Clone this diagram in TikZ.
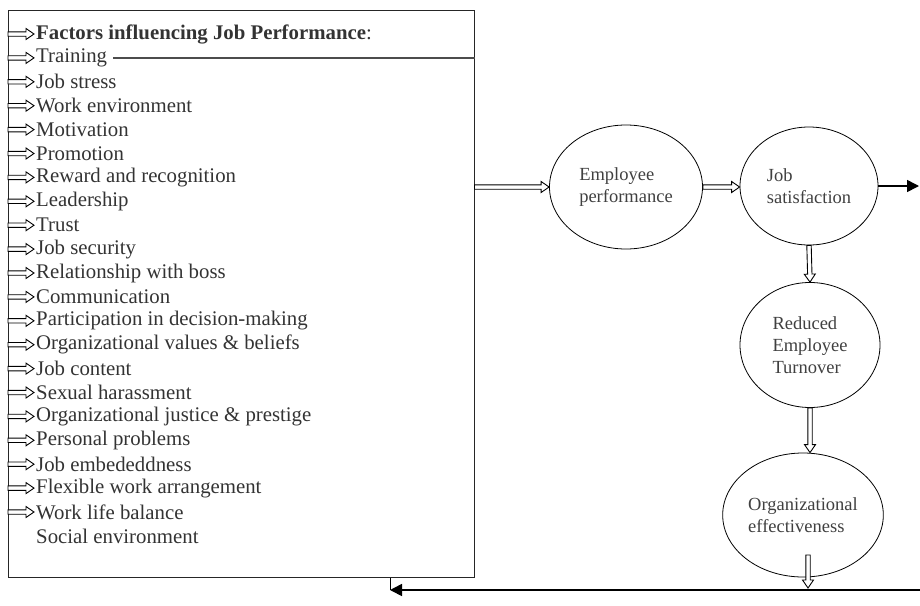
\documentclass[tikz,border=0pt]{standalone}
\usepackage{fontspec}
\setmainfont{Liberation Serif}
\usetikzlibrary{arrows.meta,shapes.geometric,positioning,calc}
\tikzset{
    x=1pt, y=-1pt, semithick,
    state/.style ={ellipse, draw, line width=0.8pt, align=left, inner sep=2pt,
        font=\fontsize{18.5}{22}\selectfont, text=black!75},
    item/.style = {anchor=west, inner sep=0pt, font=\fontsize{20.8}{24}\selectfont, text=black!80},
    hollow/.style={draw=black, line width=0.9pt, fill=white, to path={
        ($(\tikztostart)!2.2pt!90:(\tikztotarget)$) --
        ($(\tikztotarget)!8pt!(\tikztostart)!2.2pt!-90:(\tikztostart)$) --
        ($(\tikztotarget)!8pt!(\tikztostart)!5.5pt!-90:(\tikztostart)$) --
        (\tikztotarget) --
        ($(\tikztotarget)!8pt!(\tikztostart)!5.5pt!90:(\tikztostart)$) --
        ($(\tikztotarget)!8pt!(\tikztostart)!2.2pt!90:(\tikztostart)$) --
        ($(\tikztostart)!2.2pt!-90:(\tikztotarget)$) -- cycle}},
    feedback/.style={line width=1.6pt, -{Triangle[length=12pt, width=12pt]}}
}

\begin{document}
\begin{tikzpicture}
    \useasboundingbox (0,0) rectangle (920,605);
    \node (box) at (241,293.5) [draw=black!85, line width=1pt, minimum width=466pt, minimum height=567pt, inner sep=0pt] {};

    % factors list
    \foreach \txt [count=\i] in {{\textbf{Factors influencing Job Performance}:},Training,Job stress,
        Work environment,Motivation,Promotion,Reward and recognition,Leadership,Trust,
        Job security,Relationship with boss,Communication,Participation in decision-making,
        Organizational values \& beliefs,Job content,Sexual harassment,
        Organizational justice \& prestige,Personal problems,Job embededdness,
        Flexible work arrangement,Work life balance,Social environment}{
        \node (f\i) at (36,{34+(\i-1)*23.9}) [item] {\txt};
        \ifnum\i<22
            \coordinate (a\i) at (8,{34+(\i-1)*23.9});
            \draw[hollow] (a\i) to ([xshift=-2pt]f\i.west);
        \fi
    }
    \draw[line width=1.3pt, black!70] ([xshift=6pt]f2.east) -- (f2.east -| box.east);

    \node (emp) at (626,187) [state, minimum width=153pt, minimum height=124pt] {Employee\\performance};
    \node (job) at (809,186) [state, minimum width=138pt, minimum height=118pt] {Job\\satisfaction};
    \node (red) at (810,345) [state, minimum width=140pt, minimum height=125pt] {Reduced\\Employee\\Turnover};
    \node (org) at (803,515) [state, minimum width=150pt, minimum height=124pt] {Organizational\\effectiveness};

    \coordinate (rt) at (919,188);
    \coordinate (ot) at (808,555);
    \coordinate (ob) at (808,588);
    \coordinate (rb) at (920,590);
    \coordinate (lb) at (390,590);

    \draw[hollow] (box.east |- emp) to (emp.west);
    \draw[hollow] (emp.east) to (emp.east -| job.west);
    \draw[feedback] (job.east) -- (job.east -| rt);
    \draw[hollow] (job.south) to (red.north);
    \draw[hollow] (red.south) to (red.south |- org.north);
    \draw[hollow] (ot) to (ob);
    \draw[feedback] (rb) -- (lb);
    \draw[line width=1pt] (box.south -| lb) -- (lb);
\end{tikzpicture}
\end{document}
